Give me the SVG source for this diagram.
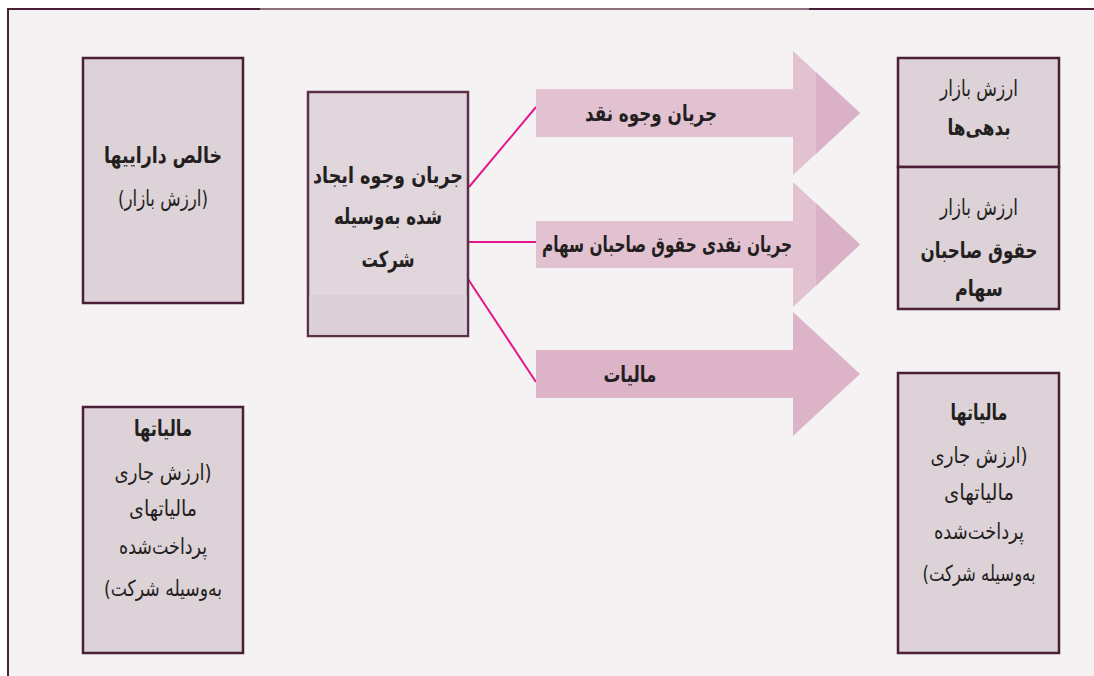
<svg xmlns="http://www.w3.org/2000/svg" width="1094" height="676" viewBox="0 0 1094 676">
  <defs>
    <style>
      .box { fill: #dcd2d8; stroke: #4b1f35; stroke-width: 2.5; }
      .t { font-family: "DejaVu Sans", "Noto Sans", sans-serif; fill: #231f20; text-anchor: middle; direction: rtl; }
      .r { font-size: 22px; font-weight: normal; }
      .b { font-size: 22px; font-weight: bold; }
      .al { fill: #e2c1d1; }
      .ad { fill: #dbb1c7; }
      .conn { stroke: #e4188a; stroke-width: 2; fill: none; }
    </style>
  </defs>
  <rect x="0" y="0" width="1094" height="676" fill="#ffffff"/>
  <g id="frame">
    <rect x="8" y="9" width="1100" height="680" fill="#f4f2f3" stroke="#4b1f35" stroke-width="2"/>
    <line x1="260" y1="9" x2="809" y2="9" stroke="#8c7080" stroke-width="2"/>
  </g>

  <g id="connectors">
    <line class="conn" x1="469" y1="187" x2="536" y2="107"/>
    <line class="conn" x1="466" y1="242" x2="536" y2="242"/>
    <line class="conn" x1="468" y1="279" x2="536" y2="382"/>
  </g>

  <g id="arrow-cash">
    <polygon class="al" points="536,89 793,89 793,51 860,113 793,175 793,137 536,137"/>
    <polygon class="ad" points="816,72.3 860,113 816,153.7"/>
    <text class="t b" x="651" y="121" textLength="132" lengthAdjust="spacingAndGlyphs">جریان وجوه نقد</text>
  </g>
  <g id="arrow-equity">
    <polygon class="al" points="536,221 793,221 793,182 860,244.5 793,307 793,268 536,268"/>
    <polygon class="ad" points="816,203.3 860,244.5 816,285.7"/>
    <text class="t b" x="667" y="252" textLength="250" lengthAdjust="spacingAndGlyphs">جریان نقدی حقوق صاحبان سهام</text>
  </g>
  <g id="arrow-tax">
    <polygon fill="#dcb3c7" points="536,350 793,350 793,312 860,374 793,436 793,398 536,398"/>
    <text class="t b" x="630" y="382" textLength="53" lengthAdjust="spacingAndGlyphs">مالیات</text>
  </g>

  <g id="node-assets">
    <rect class="box" x="83" y="58" width="160" height="245"/>
    <text class="t b" x="163" y="163" textLength="118" lengthAdjust="spacingAndGlyphs">خالص داراییها</text>
    <text class="t r" x="163" y="206" textLength="90" lengthAdjust="spacingAndGlyphs">(ارزش بازار)</text>
  </g>

  <g id="node-firm">
    <rect x="308" y="92" width="160" height="244" fill="#e0d6dc" stroke="#5c3049" stroke-width="2.5"/>
    <rect x="309.25" y="295" width="157.5" height="39.75" fill="#dcd0d7"/>
    <text class="t b" x="388" y="183" textLength="150" lengthAdjust="spacingAndGlyphs">جریان وجوه ایجاد</text>
    <text class="t b" x="388" y="224" textLength="108" lengthAdjust="spacingAndGlyphs">شده به‌وسیله</text>
    <text class="t b" x="388" y="267" textLength="53" lengthAdjust="spacingAndGlyphs">شرکت</text>
  </g>

  <g id="node-debt">
    <rect class="box" x="898" y="58" width="161" height="109"/>
    <text class="t r" x="979" y="96" textLength="78" lengthAdjust="spacingAndGlyphs">ارزش بازار</text>
    <text class="t b" x="979" y="135" textLength="63" lengthAdjust="spacingAndGlyphs">بدهی‌ها</text>
  </g>

  <g id="node-equity">
    <rect class="box" x="898" y="167" width="161" height="142"/>
    <text class="t r" x="979" y="215" textLength="78" lengthAdjust="spacingAndGlyphs">ارزش بازار</text>
    <text class="t b" x="979" y="258" textLength="117" lengthAdjust="spacingAndGlyphs">حقوق صاحبان</text>
    <text class="t b" x="979" y="296" textLength="48" lengthAdjust="spacingAndGlyphs">سهام</text>
  </g>

  <g id="node-taxes-left">
    <rect class="box" x="83" y="407" width="160" height="246"/>
    <text class="t b" x="163" y="436" textLength="58" lengthAdjust="spacingAndGlyphs">مالیاتها</text>
    <text class="t r" x="163" y="480" textLength="97" lengthAdjust="spacingAndGlyphs">(ارزش جاری</text>
    <text class="t r" x="163" y="516" textLength="68" lengthAdjust="spacingAndGlyphs">مالیاتهای</text>
    <text class="t r" x="163" y="554" textLength="88" lengthAdjust="spacingAndGlyphs">پرداخت‌شده</text>
    <text class="t r" x="163" y="596" textLength="118" lengthAdjust="spacingAndGlyphs">به‌وسیله شرکت)</text>
  </g>

  <g id="node-taxes-right">
    <rect class="box" x="898" y="373" width="161" height="280"/>
    <text class="t b" x="979" y="420" textLength="57" lengthAdjust="spacingAndGlyphs">مالیاتها</text>
    <text class="t r" x="979" y="463" textLength="97" lengthAdjust="spacingAndGlyphs">(ارزش جاری</text>
    <text class="t r" x="979" y="500" textLength="70" lengthAdjust="spacingAndGlyphs">مالیاتهای</text>
    <text class="t r" x="979" y="539" textLength="90" lengthAdjust="spacingAndGlyphs">پرداخت‌شده</text>
    <text class="t r" x="979" y="581" textLength="113" lengthAdjust="spacingAndGlyphs">به‌وسیله شرکت)</text>
  </g>
</svg>
